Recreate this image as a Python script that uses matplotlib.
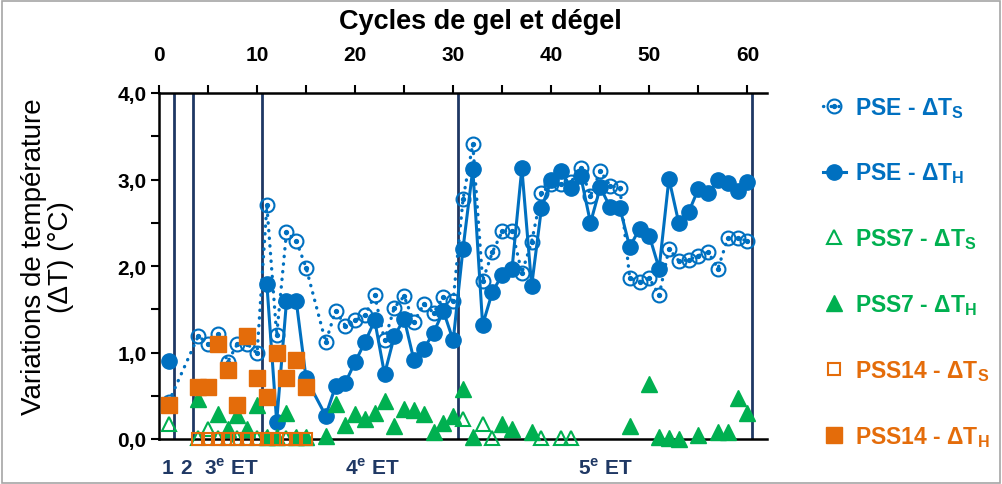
import numpy as np
import matplotlib
matplotlib.use('Agg')
import matplotlib.pyplot as plt
from matplotlib.ticker import FuncFormatter, MultipleLocator
from matplotlib.patches import Rectangle

plt.rcParams['font.family'] = ['Liberation Sans', 'DejaVu Sans']
plt.rcParams['mathtext.fontset'] = 'custom'
plt.rcParams['mathtext.rm'] = 'Liberation Sans'
plt.rcParams['mathtext.bf'] = 'Liberation Sans:bold'

# PSE - dT_S (open circles, dotted)
pse_s_cyc = [1, 4, 5, 6, 7, 8, 9, 10, 11, 12, 13, 14, 15, 17, 18, 19, 20, 21, 22, 23, 24,
             25, 26, 27, 28, 29, 30] + list(range(31, 61))
pse_s = [0.43, 1.19, 1.10, 1.21, 0.89, 1.10, 1.10, 0.99, 2.70, 1.20, 2.39, 2.29, 1.98,
         1.12, 1.48, 1.31, 1.37, 1.43, 1.66, 1.14, 1.52, 1.65, 1.35, 1.56, 1.46, 1.64, 1.60,
         2.77, 3.41, 1.83, 2.16, 2.40, 2.41, 1.92, 2.28, 2.84, 2.95,
         2.95, 2.97, 3.13, 2.81, 3.10, 2.93, 2.90, 1.86, 1.82, 1.86,
         1.66, 2.20, 2.06, 2.07, 2.12, 2.16, 1.97, 2.32, 2.32, 2.29]

# PSE - dT_H (filled circles, solid) ; cycle 1 stands alone
pse_h0_cyc = [1]
pse_h0 = [0.90]
pse_h_cyc = [11, 12, 13, 14, 15] + list(range(17, 61))
pse_h = [1.79, 0.20, 1.59, 1.59, 0.70,
         0.27, 0.61, 0.65, 0.89, 1.12, 1.37, 0.75, 1.19, 1.39, 0.91, 1.04, 1.23, 1.48, 1.14,
         2.20, 3.12, 1.32, 1.70, 1.90, 1.97, 3.13, 1.77, 2.67, 2.99,
         3.10, 2.90, 3.04, 2.50, 2.91, 2.68, 2.67, 2.22, 2.43, 2.35,
         1.97, 3.01, 2.50, 2.62, 2.89, 2.84, 2.99, 2.96, 2.87, 2.97]

# PSS7
pss7_s_cyc = [1, 4, 5, 6, 7, 8, 9, 10, 11, 12, 13, 14, 15, 31, 33, 34, 39, 41, 42]
pss7_s = [0.17, 0.01, 0.12, 0.01, 0.01, 0.01, 0.01, 0.01, 0.01, 0.01, 0.01, 0.01, 0.01,
          0.23, 0.17, 0.01, 0.01, 0.01, 0.01]
pss7_h_cyc = [4, 6, 7, 8, 9, 10, 11, 12, 13, 14, 15, 17, 18, 19, 20, 21, 22, 23, 24, 25,
              26, 27, 28, 29, 30, 31, 32, 35, 36, 38, 48, 50, 51, 52, 53, 55, 57, 58, 59, 60]
pss7_h = [0.46, 0.29, 0.12, 0.28, 0.12, 0.39, 0.02, 0.02, 0.30, 0.02, 0.02, 0.03, 0.41,
          0.16, 0.29, 0.23, 0.30, 0.44, 0.15, 0.35, 0.33, 0.29, 0.08, 0.19, 0.27, 0.58,
          0.02, 0.17, 0.11, 0.08, 0.15, 0.64, 0.02, 0.01, 0.0, 0.05, 0.08, 0.08, 0.47, 0.30]

# PSS14
pss14_s_cyc = list(range(4, 16))
pss14_s = [0.0] * 12
pss14_h_cyc = [1, 4, 5, 6, 7, 8, 9, 10, 11, 12, 13, 14, 15]
pss14_h = [0.39, 0.60, 0.60, 1.10, 0.80, 0.39, 1.19, 0.70, 0.49, 1.00, 0.70, 0.91, 0.60]

# phases
phase_lines = [1.5, 3.5, 10.5, 30.5, 60.5]
phase_labels = ['1', '2', '3$^\\mathbf{e}$ ET', '4$^\\mathbf{e}$ ET', '5$^\\mathbf{e}$ ET']
phase_pos = [0.9, 2.75, 7.4, 21.8, 45.5]

blue = '#0070C0'
green = '#00B050'
orange = '#E46C0A'
navy = '#1F3864'

fig = plt.figure(figsize=(10.03, 4.85), dpi=100)
ax = fig.add_axes([159/1003, 45/485, (767-159)/1003, (440-94)/485])

for xv in phase_lines:
    ax.axvline(xv, color=navy, lw=2, zorder=1)

ax.plot(pse_s_cyc, pse_s, ls=(0, (0.1, 2.2)), dash_capstyle='round', lw=2.4, color=blue,
        marker='o', ms=10, mfc='none', mec=blue, mew=1.5, zorder=3, clip_on=False)
ax.plot(pse_s_cyc, pse_s, ls='none', marker='o', ms=2.8, color=blue, zorder=3)
ax.plot(pse_h0_cyc, pse_h0, ls='none', marker='o', ms=11, color=blue, zorder=4)
ax.plot(pse_h_cyc, pse_h, ls='-', lw=2.2, marker='o', ms=11, color=blue, zorder=4)
ax.plot(pss7_s_cyc, pss7_s, ls='none', marker='^', ms=10, mfc='none', mec=green, mew=1.5,
        zorder=5, clip_on=False)
ax.plot(pss7_h_cyc, pss7_h, ls='none', marker='^', ms=11, color=green, zorder=5, clip_on=False)
ax.plot(pss14_s_cyc, pss14_s, ls='none', marker='s', ms=9, mfc='none', mec=orange, mew=1.5,
        zorder=6, clip_on=False)
ax.plot(pss14_h_cyc, pss14_h, ls='none', marker='s', ms=11, color=orange, zorder=6, clip_on=False)

ax.set_xlim(0, 62)
ax.set_ylim(0, 4)
ax.xaxis.tick_top()
ax.xaxis.set_major_locator(MultipleLocator(10))
ax.xaxis.set_minor_locator(MultipleLocator(5))
ax.set_xticks(range(0, 61, 10))
ax.yaxis.set_major_locator(MultipleLocator(1))
ax.yaxis.set_minor_locator(MultipleLocator(0.5))
ax.yaxis.set_major_formatter(FuncFormatter(lambda v, p: f'{v:.1f}'.replace('.', ',')))
ax.tick_params(which='both', direction='out', length=6, width=1.5, labelsize=15)
ax.tick_params(axis='x', which='both', top=True, bottom=False, pad=15)
ax.tick_params(axis='y', pad=3)
for lab in ax.get_xticklabels() + ax.get_yticklabels():
    lab.set_fontweight('bold')
ax.spines['right'].set_visible(False)
for s in ['top', 'bottom', 'left']:
    ax.spines[s].set_linewidth(1.8)

fig.text(480/1003, 1 - 22/485, 'Cycles de gel et dégel', fontsize=19.5, fontweight='bold',
         ha='center', va='center')
ax.set_ylabel('Variations de température\n(ΔT) (°C)', fontsize=20, linespacing=1.05)
ax.yaxis.set_label_coords((74 - 159)/608, (440 - 257)/346)

for lab, xp in zip(phase_labels, phase_pos):
    ax.text(xp, -0.33, lab, color=navy, fontsize=15, fontweight='bold',
            ha='center', va='center')

# legend
h1 = plt.Line2D([], [], ls=(0, (0.1, 2.2)), dash_capstyle='round', lw=2.4, color=blue,
                marker='o', ms=10, mfc='none', mec=blue, mew=1.5)
h1b = plt.Line2D([], [], ls='none', marker='o', ms=2.8, color=blue)
h2 = plt.Line2D([], [], ls='-', lw=2.2, marker='o', ms=11, color=blue)
h3 = plt.Line2D([], [], ls='none', marker='^', ms=10, mfc='none', mec=green, mew=1.5)
h4 = plt.Line2D([], [], ls='none', marker='^', ms=11, color=green)
h5 = plt.Line2D([], [], ls='none', marker='s', ms=9, mfc='none', mec=orange, mew=1.5)
h6 = plt.Line2D([], [], ls='none', marker='s', ms=11, color=orange)
labels = ['PSE - ΔT$_\\mathbf{S}$', 'PSE - ΔT$_\\mathbf{H}$', 'PSS7 - ΔT$_\\mathbf{S}$',
          'PSS7 - ΔT$_\\mathbf{H}$', 'PSS14 - ΔT$_\\mathbf{S}$', 'PSS14 - ΔT$_\\mathbf{H}$']
leg = ax.legend([(h1, h1b), h2, h3, h4, h5, h6], labels, loc='upper left',
                bbox_to_anchor=(802/1003, 1 - 75/485), bbox_transform=fig.transFigure,
                frameon=False, handlelength=1.0, handletextpad=0.4, labelspacing=1.79,
                prop={'size': 16.5, 'weight': 'bold'},
                labelcolor=[blue, blue, green, green, orange, orange])

fig.patches.append(Rectangle((0.002, 0.003), 0.995, 0.993, transform=fig.transFigure,
                             fill=False, ec='#A6A6A6', lw=1.2))

fig.savefig('out.png', dpi=100)
